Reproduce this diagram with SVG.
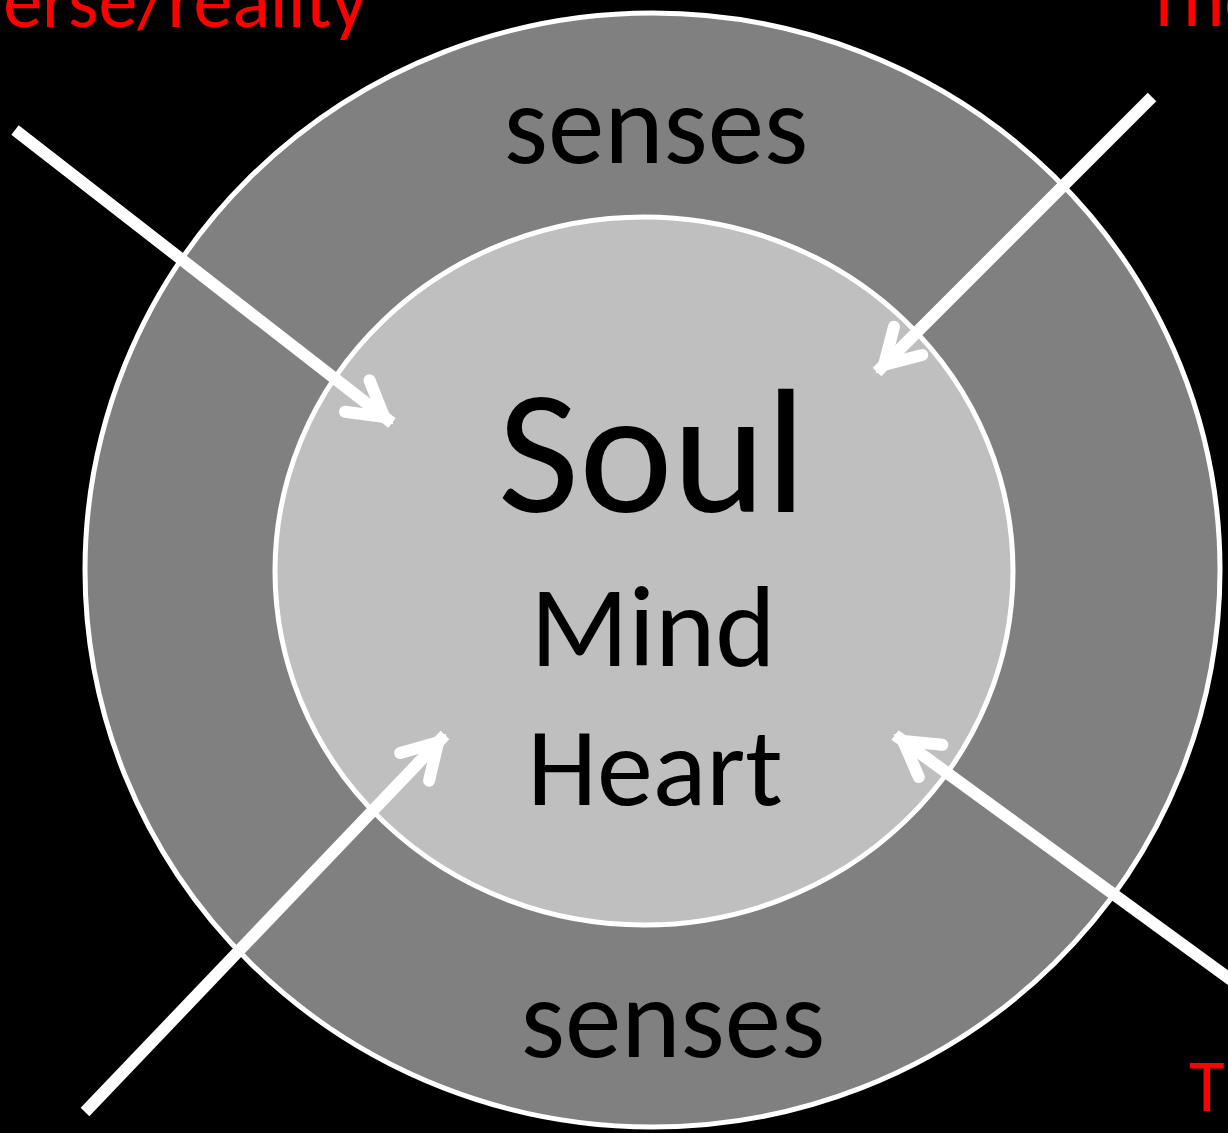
<svg xmlns="http://www.w3.org/2000/svg" width="1228" height="1133" viewBox="0 0 1228 1133">
<style>
.lbl{font-family:Carlito,Lato,"Liberation Sans",sans-serif;fill:#000;text-anchor:middle}
.red{font-family:Carlito,Lato,"Liberation Sans",sans-serif;fill:#ff0000}
.ring{stroke:#fff;stroke-width:5}
.arr{stroke:#fff;stroke-width:12;fill:none}
</style>
<defs>
<marker id="ah" markerUnits="userSpaceOnUse" orient="auto" refX="0" refY="0" markerWidth="80" markerHeight="80" viewBox="-60 -40 80 80" overflow="visible">
<path d="M-44,-20 L-10,0 L-44,20" stroke="#fff" stroke-width="12" fill="none" stroke-linecap="round" stroke-linejoin="miter" stroke-miterlimit="10"/>
</marker>
</defs>
<rect width="1228" height="1133" fill="#000"/>
<g id="outer">
<ellipse class="ring" cx="652.5" cy="570" rx="567.5" ry="557" fill="#808080"/>
</g>
<g id="inner">
<ellipse class="ring" cx="644" cy="571" rx="369" ry="354" fill="#bfbfbf"/>
</g>
<g id="labels">
<text class="lbl" x="656" y="163" font-size="113">senses</text>
<text class="lbl" x="673" y="1057" font-size="113">senses</text>
<text class="lbl" x="652" y="512" font-size="177">Soul</text>
<text class="lbl" x="653" y="666" font-size="115">Mind</text>
<text class="lbl" x="655" y="805" font-size="112">Heart</text>
</g>
<g id="outside">
<text class="red" x="367" y="27" font-size="78" text-anchor="end">erse/reality</text>
<text class="red" x="1145" y="26" font-size="78">The</text>
<text class="red" x="1189" y="1111" font-size="73">T</text>
</g>
<g id="connectors">
<line class="arr" x1="15" y1="130" x2="392" y2="423" marker-end="url(#ah)"/>
<line class="arr" x1="1152" y1="97" x2="877" y2="372" marker-end="url(#ah)"/>
<line class="arr" x1="85" y1="1112" x2="445" y2="735" marker-end="url(#ah)"/>
<line class="arr" x1="1245" y1="990" x2="895" y2="735" marker-end="url(#ah)"/>
</g>
</svg>
